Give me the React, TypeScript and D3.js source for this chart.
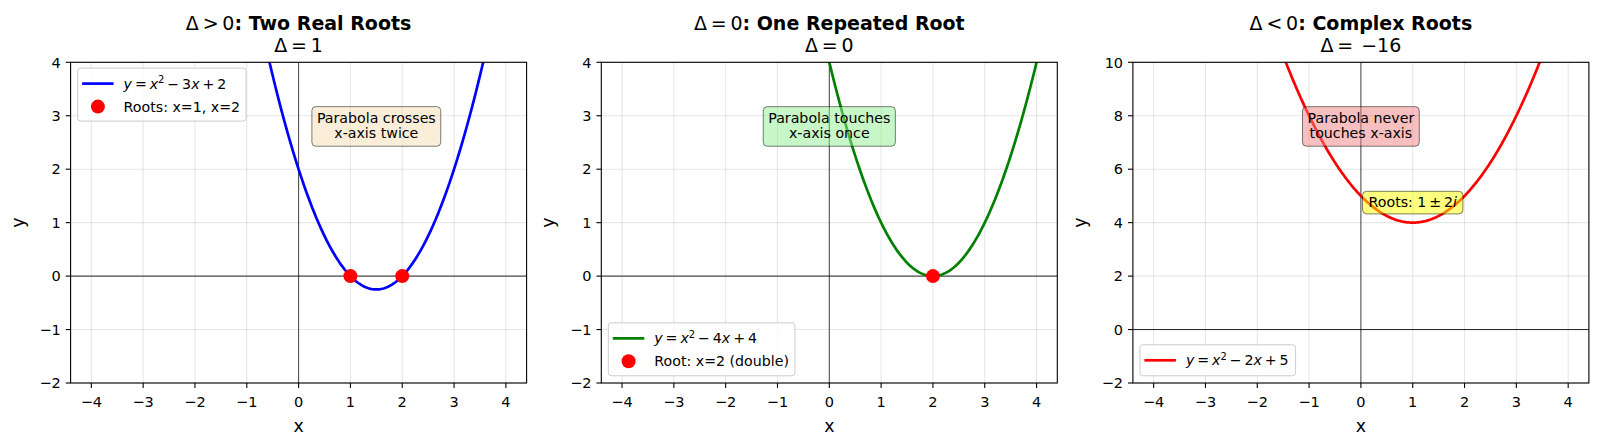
import React, { useRef, useEffect } from "react";
import * as d3 from "d3";

// x axis shared by the three panels
const xTicks = [-4, -3, -2, -1, 0, 1, 2, 3, 4];
const xDomain = [-4.4, 4.4];
const xSample = [-4, 4];

// y = a x^2 + b x + c for each panel
const coefA = [1, 1, 1];
const coefB = [-3, -4, -2];
const coefC = [2, 4, 5];
const discriminants = [1, 0, -16];
const yDomains = [[-2, 4], [-2, 4], [-2, 10]];
const yTicks = [
    [-2, -1, 0, 1, 2, 3, 4],
    [-2, -1, 0, 1, 2, 3, 4],
    [-2, 0, 2, 4, 6, 8, 10],
];
const rootsX = [[1, 2], [2], []];
const rootLabels = ["Roots: x=1, x=2", "Root: x=2 (double)", ""];
const lineColors = ["#0000ff", "#008000", "#ff0000"];
const titleSigns = [">", "=", "<"];
const titleNames = ["Two Real Roots", "One Repeated Root", "Complex Roots"];
const noteLines = [
    ["Parabola crosses", "x-axis twice"],
    ["Parabola touches", "x-axis once"],
    ["Parabola never", "touches x-axis"],
];
const noteX = [1.5, 0, 0];
const noteY = [2.8, 2.8, 7.6];
const noteFill = ["#f5deb3", "#90ee90", "#f08080"];
const legendAtTop = [true, false, false];
// complex roots label (panel 3)
const complexRe = 1;
const complexIm = 2;
const complexLabelY = 4.75;

const W = 1600;
const H = 443;
const panelLeft = [70.6, 601.3, 1132.9];
const panelTop = 62.3;
const panelW = 456;
const panelH = 320.7;
const FONT = "'DejaVu Sans', sans-serif";

type Seg = { t: string; it?: boolean; bold?: boolean; sup?: boolean; gap?: number };

function eqSegments(b: number, c: number): Seg[] {
    const g = 2.9;
    return [
        { t: "y", it: true },
        { t: "=", gap: g },
        { t: "x", it: true, gap: g },
        { t: "2", sup: true },
        { t: b < 0 ? "\u2212" : "+", gap: g },
        { t: String(Math.abs(b)), gap: g },
        { t: "x", it: true },
        { t: c < 0 ? "\u2212" : "+", gap: g },
        { t: String(Math.abs(c)), gap: g },
    ];
}

function addSegs(text: any, segs: Seg[], size: number) {
    let raised = false;
    segs.forEach((s) => {
        const ts = text.append("tspan").text(s.t);
        if (s.it) ts.attr("font-style", "italic");
        if (s.bold) ts.attr("font-weight", "bold");
        if (s.gap) ts.attr("dx", s.gap);
        if (s.sup) {
            ts.attr("font-size", size * 0.7).attr("dy", -size * 0.38);
            raised = true;
        } else if (raised) {
            ts.attr("dy", size * 0.38);
            raised = false;
        }
    });
}

const App = () => {
    const svgRef = useRef<SVGSVGElement>(null);

    useEffect(() => {
        const svg = d3.select(svgRef.current);
        svg.selectAll("*").remove();
        const defs = svg.append("defs");

        coefB.forEach((b, p) => {
            const a = coefA[p];
            const c = coefC[p];
            const left = panelLeft[p];
            const bottom = panelTop + panelH;
            const x = d3.scaleLinear().domain(xDomain).range([left, left + panelW]);
            const y = d3.scaleLinear().domain(yDomains[p]).range([bottom, panelTop]);
            const g = svg.append("g").attr("font-family", FONT).attr("fill", "#000");

            defs.append("clipPath").attr("id", `clip${p}`)
                .append("rect")
                .attr("x", left).attr("y", panelTop)
                .attr("width", panelW).attr("height", panelH);

            // grid
            g.append("g").selectAll("line").data(xTicks).join("line")
                .attr("x1", (d) => x(d)).attr("x2", (d) => x(d))
                .attr("y1", panelTop).attr("y2", bottom)
                .attr("stroke", "#b0b0b0").attr("stroke-opacity", 0.3).attr("stroke-width", 1.1);
            g.append("g").selectAll("line").data(yTicks[p]).join("line")
                .attr("x1", left).attr("x2", left + panelW)
                .attr("y1", (d) => y(d)).attr("y2", (d) => y(d))
                .attr("stroke", "#b0b0b0").attr("stroke-opacity", 0.3).attr("stroke-width", 1.1);

            // zero lines
            g.append("line")
                .attr("x1", left).attr("x2", left + panelW)
                .attr("y1", y(0)).attr("y2", y(0))
                .attr("stroke", "#000").attr("stroke-opacity", 0.85).attr("stroke-width", 1);
            g.append("line")
                .attr("x1", x(0)).attr("x2", x(0))
                .attr("y1", panelTop).attr("y2", bottom)
                .attr("stroke", "#000").attr("stroke-opacity", 0.7).attr("stroke-width", 1);

            // parabola
            const xs = d3.range(0, 400).map((i) => xSample[0] + ((xSample[1] - xSample[0]) * i) / 399);
            const curve = d3.line<number>()
                .x((d) => x(d))
                .y((d) => y(a * d * d + b * d + c));
            g.append("path")
                .attr("d", curve(xs))
                .attr("clip-path", `url(#clip${p})`)
                .attr("fill", "none")
                .attr("stroke", lineColors[p])
                .attr("stroke-width", 2.7);

            // roots
            g.append("g").selectAll("circle").data(rootsX[p]).join("circle")
                .attr("cx", (d) => x(d)).attr("cy", y(0)).attr("r", 7)
                .attr("fill", "#ff0000");

            // note box
            const note = g.append("g");
            const nx = x(noteX[p]);
            const ny = y(noteY[p]);
            const noteRect = note.append("rect");
            const nt = note.append("text")
                .attr("font-size", 14.2).attr("text-anchor", "middle");
            nt.append("tspan").attr("x", nx).attr("y", ny - 3.2).text(noteLines[p][0]);
            nt.append("tspan").attr("x", nx).attr("y", ny + 11.8).text(noteLines[p][1]);
            const nw = (nt.node() as SVGTextElement).getBBox().width + 10;
            noteRect
                .attr("x", nx - nw / 2).attr("y", ny - 19.8)
                .attr("width", nw).attr("height", 39.6)
                .attr("rx", 4)
                .attr("fill", noteFill[p]).attr("fill-opacity", 0.5)
                .attr("stroke", "#000").attr("stroke-opacity", 0.5).attr("stroke-width", 1);

            // complex roots label
            if (discriminants[p] < 0) {
                const cx = x(complexRe);
                const cy = y(complexLabelY);
                const box = g.append("rect");
                const ct = g.append("text")
                    .attr("font-size", 14.2).attr("text-anchor", "middle")
                    .attr("x", cx).attr("y", cy + 4.6);
                addSegs(ct, [
                    { t: `Roots: ${complexRe}` },
                    { t: "\u00b1", gap: 2.8 },
                    { t: String(complexIm), gap: 2.8 },
                    { t: "i", it: true },
                ], 14.2);
                const cw = (ct.node() as SVGTextElement).getBBox().width + 12;
                box.attr("x", cx - cw / 2).attr("y", cy - 11.3)
                    .attr("width", cw).attr("height", 22.6).attr("rx", 4)
                    .attr("fill", "#ffff00").attr("fill-opacity", 0.5)
                    .attr("stroke", "#000").attr("stroke-opacity", 0.5).attr("stroke-width", 1);
            }

            // spines
            g.append("rect")
                .attr("x", left).attr("y", panelTop)
                .attr("width", panelW).attr("height", panelH)
                .attr("fill", "none").attr("stroke", "#000").attr("stroke-width", 1.1);

            // x ticks
            const xt = g.append("g").selectAll("g").data(xTicks).join("g");
            xt.append("line")
                .attr("x1", (d) => x(d)).attr("x2", (d) => x(d))
                .attr("y1", bottom).attr("y2", bottom + 4.9)
                .attr("stroke", "#000").attr("stroke-width", 1.1);
            xt.append("text")
                .attr("x", (d) => x(d)).attr("y", bottom + 24.4)
                .attr("font-size", 14.5).attr("text-anchor", "middle")
                .text((d) => (d < 0 ? "\u2212" + Math.abs(d) : String(d)));

            // y ticks
            const yt = g.append("g").selectAll("g").data(yTicks[p]).join("g");
            yt.append("line")
                .attr("x1", left - 4.9).attr("x2", left)
                .attr("y1", (d) => y(d)).attr("y2", (d) => y(d))
                .attr("stroke", "#000").attr("stroke-width", 1.1);
            yt.append("text")
                .attr("x", left - 9.8).attr("y", (d) => y(d) + 5.2)
                .attr("font-size", 14.5).attr("text-anchor", "end")
                .text((d) => (d < 0 ? "\u2212" + Math.abs(d) : String(d)));

            // axis labels
            g.append("text")
                .attr("x", left + panelW / 2).attr("y", 432)
                .attr("font-size", 17.4).attr("text-anchor", "middle")
                .text("x");
            g.append("text")
                .attr("transform", `translate(${left - 47},${panelTop + panelH / 2}) rotate(-90)`)
                .attr("font-size", 17.4).attr("text-anchor", "middle")
                .text("y");

            // titles
            const tx = left + panelW / 2;
            const t1 = g.append("text")
                .attr("x", tx).attr("y", 30.3)
                .attr("font-size", 19).attr("text-anchor", "middle");
            addSegs(t1, [
                { t: "\u0394" },
                { t: titleSigns[p], gap: 3.8 },
                { t: "0", gap: 3.8 },
                { t: ": " + titleNames[p], bold: true },
            ], 19);
            const dv = discriminants[p];
            const t2 = g.append("text")
                .attr("x", tx).attr("y", 52)
                .attr("font-size", 19).attr("text-anchor", "middle");
            addSegs(t2, [
                { t: "\u0394" },
                { t: "=", gap: 3.8 },
                { t: dv < 0 ? "\u2212" + Math.abs(dv) : String(dv), gap: dv < 0 ? 8 : 3.8 },
            ], 19);

            // legend
            const rows = rootsX[p].length ? 2 : 1;
            const lh = 9 + 22 * rows;
            const lx = left + 7;
            const ly = legendAtTop[p] ? panelTop + 5.8 : bottom - 7.2 - lh;
            const leg = g.append("g");
            const legRect = leg.append("rect");
            const r1 = ly + 15.5;
            leg.append("line")
                .attr("x1", lx + 4.5).attr("x2", lx + 36)
                .attr("y1", r1).attr("y2", r1)
                .attr("stroke", lineColors[p]).attr("stroke-width", 2.7);
            const e1 = leg.append("text")
                .attr("x", lx + 46).attr("y", r1 + 5)
                .attr("font-size", 14.2);
            addSegs(e1, eqSegments(b, c), 14.2);
            let tw = (e1.node() as SVGTextElement).getBBox().width;
            if (rows > 1) {
                const r2 = r1 + 23;
                leg.append("circle")
                    .attr("cx", lx + 20.3).attr("cy", r2).attr("r", 7)
                    .attr("fill", "#ff0000");
                const e2 = leg.append("text")
                    .attr("x", lx + 46).attr("y", r2 + 5)
                    .attr("font-size", 14.2)
                    .text(rootLabels[p]);
                tw = Math.max(tw, (e2.node() as SVGTextElement).getBBox().width);
            }
            legRect
                .attr("x", lx).attr("y", ly)
                .attr("width", 46 + tw + 6).attr("height", lh)
                .attr("rx", 3)
                .attr("fill", "#fff").attr("fill-opacity", 0.8)
                .attr("stroke", "#cccccc").attr("stroke-width", 1);
        });
    }, []);

    return (
        <svg
            ref={svgRef}
            width={W}
            height={H}
            style={{ position: "absolute", left: 0, top: 0, background: "#fff" }}
        />
    );
};

export default App;
